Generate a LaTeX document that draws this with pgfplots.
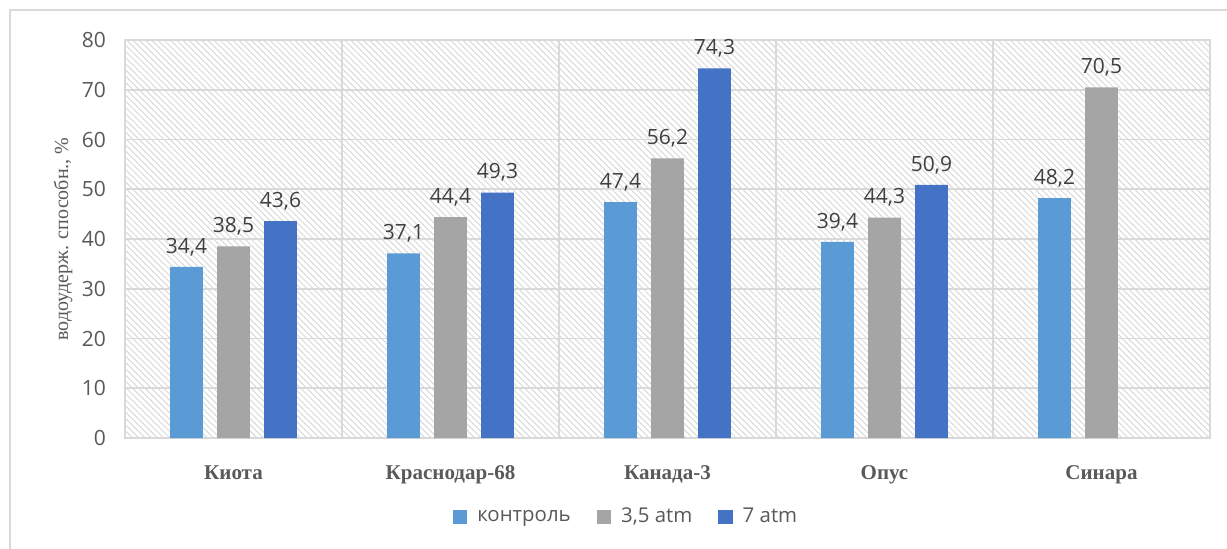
\documentclass[border=0pt]{standalone}
\usepackage{fontspec}
\setmainfont{Liberation Serif}
\newfontfamily\os{Open Sans}
\usepackage{pgfplots}
\pgfplotsset{compat=1.18}
\usetikzlibrary{patterns.meta}
\definecolor{cA}{HTML}{5B9BD5}
\definecolor{cB}{HTML}{A5A5A5}
\definecolor{cC}{HTML}{4472C4}
\definecolor{txt}{HTML}{595959}
\definecolor{dlab}{HTML}{404040}
\definecolor{grd}{HTML}{D9D9D9}
\begin{document}
\begin{tikzpicture}
\useasboundingbox (-62.5pt,-55pt) rectangle (551pt,219pt);
\draw[grd, line width=0.8pt] (-57.5pt,-70pt) -- (-57.5pt,214pt) -- (570pt,214pt);
\begin{axis}[
  scale only axis,
  width=542.5pt, height=199pt,
  at={(0,0)}, anchor=south west,
  xmin=-0.5, xmax=4.5,
  ymin=0, ymax=80,
  ytick={0,10,...,80},
  xtick={0,1,2,3,4},
  xticklabels={Киота,Краснодар-68,Канада-3,Опус,Синара},
  minor xtick={0.5,1.5,2.5,3.5},
  major x tick style={draw=none},
  minor x tick style={draw=none},
  ytick style={draw=none},
  ymajorgrids, xminorgrids,
  grid style={grd, line width=0.8pt},
  minor grid style={grd, line width=0.8pt},
  axis line style={grd, line width=0.8pt},
  axis background/.style={pattern={Lines[angle=-45,distance=2.2pt,line width=0.5pt]}, pattern color=black!15},
  yticklabel style={font=\os\fontsize{10.5}{12}\selectfont, text=txt, xshift=-6pt},
  xticklabel style={font=\fontsize{10.5}{12}\selectfont\bfseries, text=txt, yshift=-6pt},
  /pgf/number format/assume math mode=true,
  ylabel={водоудерж. способн., \%},
  ylabel style={at={(axis description cs:-0.0571,0.5)}, anchor=center, font=\fontsize{10}{12}\selectfont, text=txt},
  ybar,
  bar width=0.152,
  nodes near coords,
  nodes near coords style={font=\os\fontsize{10.5}{12}\selectfont, text=dlab, yshift=2pt,
    /pgf/number format/.cd, fixed, precision=1, fixed zerofill, use comma},
  legend style={at={(rel axis cs:0.4627,-0.1985)}, anchor=center, draw=none, fill=none,
    legend columns=3, font=\os\fontsize{10.2}{12}\selectfont, text=txt,
    /tikz/every odd column/.append style={column sep=3pt},
    /tikz/every even column/.append style={column sep=11pt}},
  legend image code/.code={\fill[#1] (0pt,-3.6pt) rectangle (7.2pt,3.6pt);},
]
\addplot[fill=cA, draw=none, bar shift=-0.2166] coordinates {(0,34.4) (1,37.1) (2,47.4) (3,39.4) (4,48.2)};
\addplot[fill=cB, draw=none, bar shift=0] coordinates {(0,38.5) (1,44.4) (2,56.2) (3,44.3) (4,70.5)};
\addplot[fill=cC, draw=none, bar shift=0.2166] coordinates {(0,43.6) (1,49.3) (2,74.3) (3,50.9)};
\legend{контроль, {3,5 atm}, 7 atm}
\end{axis}
\end{tikzpicture}
\end{document}
